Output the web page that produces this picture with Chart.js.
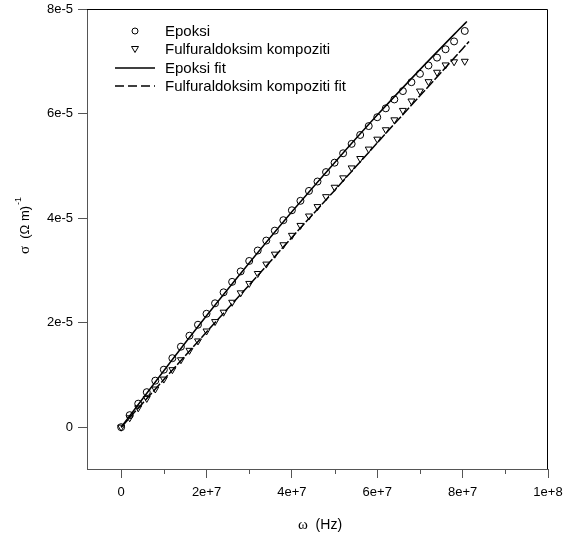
<!DOCTYPE html>
<html>
<head>
<meta charset="utf-8">
<script src="https://cdn.jsdelivr.net/npm/chart.js@4.4.0/dist/chart.umd.min.js"></script>
<style>
  html, body { margin: 0; padding: 0; background: #fff; }
</style>
</head>
<body>
<canvas id="sigmaChart" width="566" height="536"></canvas>
<script>
// measured points: frequency (Hz) and conductivity (Ohm m)^-1
var freqHz = [0, 2e6, 4e6, 6e6, 8e6, 1e7, 1.2e7, 1.4e7, 1.6e7, 1.8e7,
              2e7, 2.2e7, 2.4e7, 2.6e7, 2.8e7, 3e7, 3.2e7, 3.4e7, 3.6e7, 3.8e7,
              4e7, 4.2e7, 4.4e7, 4.6e7, 4.8e7, 5e7, 5.2e7, 5.4e7, 5.6e7, 5.8e7,
              6e7, 6.2e7, 6.4e7, 6.6e7, 6.8e7, 7e7, 7.2e7, 7.4e7, 7.6e7, 7.8e7, 8.05e7];

var epoksiSigma = [0, 0.23e-5, 0.45e-5, 0.67e-5, 0.89e-5, 1.10e-5, 1.32e-5, 1.54e-5, 1.75e-5, 1.96e-5,
                   2.17e-5, 2.37e-5, 2.58e-5, 2.78e-5, 2.98e-5, 3.18e-5, 3.38e-5, 3.57e-5, 3.76e-5, 3.96e-5,
                   4.15e-5, 4.33e-5, 4.52e-5, 4.70e-5, 4.88e-5, 5.06e-5, 5.24e-5, 5.42e-5, 5.59e-5, 5.76e-5,
                   5.93e-5, 6.10e-5, 6.27e-5, 6.43e-5, 6.60e-5, 6.76e-5, 6.92e-5, 7.07e-5, 7.23e-5, 7.38e-5, 7.58e-5];

var fulfSigma = [0, 0.18e-5, 0.37e-5, 0.55e-5, 0.73e-5, 0.92e-5, 1.10e-5, 1.29e-5, 1.47e-5, 1.65e-5,
                 1.84e-5, 2.02e-5, 2.20e-5, 2.39e-5, 2.57e-5, 2.75e-5, 2.94e-5, 3.12e-5, 3.31e-5, 3.49e-5,
                 3.67e-5, 3.86e-5, 4.04e-5, 4.22e-5, 4.41e-5, 4.59e-5, 4.77e-5, 4.96e-5, 5.14e-5, 5.32e-5,
                 5.51e-5, 5.69e-5, 5.88e-5, 6.06e-5, 6.24e-5, 6.43e-5, 6.61e-5, 6.79e-5, 6.93e-5, 6.99e-5, 7.00e-5];

// fitted curves
var fitFreqHz = [0, 1e7, 2e7, 3e7, 4e7, 5e7, 6e7, 7e7, 8e7, 8.1e7];
var epoksiFit = [0, 1.08e-5, 2.13e-5, 3.14e-5, 4.12e-5, 5.06e-5, 5.97e-5, 6.84e-5, 7.68e-5, 7.76e-5];
var fulfFitFreqHz = [0, 1e7, 2e7, 3e7, 4e7, 5e7, 6e7, 7e7, 8e7, 8.15e7];
var fulfFit = [0, 0.91e-5, 1.82e-5, 2.72e-5, 3.63e-5, 4.53e-5, 5.44e-5, 6.34e-5, 7.24e-5, 7.38e-5];

// axis ticks
var xTicks = [0, 2e7, 4e7, 6e7, 8e7, 1e8];
var xTickLabels = ['0', '2e+7', '4e+7', '6e+7', '8e+7', '1e+8'];
var xMinorTicks = [1e7, 3e7, 5e7, 7e7, 9e7];
var yTicks = [0, 2e-5, 4e-5, 6e-5, 8e-5];
var yTickLabels = ['0', '2e-5', '4e-5', '6e-5', '8e-5'];

var legendLabels = ['Epoksi', 'Fulfuraldoksim kompoziti', 'Epoksi fit', 'Fulfuraldoksim kompoziti fit'];

var SANS = '"Liberation Sans", Arial, sans-serif';
var SERIF = '"Liberation Serif", "Times New Roman", serif';

function toPoints(xs, ys) {
    return xs.map(function (x, i) { return { x: x, y: ys[i] }; });
}

// box, minor ticks, axis titles and legend
var decorPlugin = {
    id: 'decor',
    afterDraw: function (chart) {
        var ctx = chart.ctx, a = chart.chartArea, xs = chart.scales.x;
        ctx.save();
        // top and right frame
        ctx.strokeStyle = '#000';
        ctx.lineWidth = 1;
        ctx.beginPath();
        ctx.moveTo(a.left, a.top + 0.5);
        ctx.lineTo(a.right - 0.5, a.top + 0.5);
        ctx.lineTo(a.right - 0.5, a.bottom);
        ctx.stroke();
        // minor ticks on x
        ctx.strokeStyle = '#555';
        ctx.beginPath();
        xMinorTicks.forEach(function (v) {
            var px = Math.round(xs.getPixelForValue(v)) + 0.5;
            ctx.moveTo(px, a.bottom);
            ctx.lineTo(px, a.bottom + 5);
        });
        ctx.stroke();

        // x title
        ctx.fillStyle = '#000';
        ctx.textBaseline = 'alphabetic';
        ctx.font = '15px ' + SERIF;
        var w1 = ctx.measureText('\u03c9').width;
        ctx.font = '14px ' + SANS;
        var w2 = ctx.measureText('  (Hz)').width;
        var x0 = 320 - (w1 + w2) / 2;
        ctx.font = '15px ' + SERIF;
        ctx.fillText('\u03c9', x0, 529);
        ctx.font = '14px ' + SANS;
        ctx.fillText('  (Hz)', x0 + w1, 529);

        // y title (rotated)
        ctx.save();
        ctx.translate(29, 226);
        ctx.rotate(-Math.PI / 2);
        ctx.font = '15px ' + SERIF;
        var s1 = ctx.measureText('\u03c3').width;
        ctx.font = '13px ' + SANS;
        var s2 = ctx.measureText('  (\u03a9 m)').width;
        ctx.font = '9px ' + SANS;
        var s3 = ctx.measureText('-1').width;
        var y0 = -(s1 + s2 + s3) / 2;
        ctx.font = '15px ' + SERIF;
        ctx.fillText('\u03c3', y0, 0);
        ctx.font = '13px ' + SANS;
        ctx.fillText('  (\u03a9 m)', y0 + s1, 0);
        ctx.font = '9px ' + SANS;
        ctx.fillText('-1', y0 + s1 + s2 + 1, -8);
        ctx.restore();

        // legend
        var rows = [31, 49, 68, 86];
        ctx.font = '15px ' + SANS;
        ctx.textBaseline = 'middle';
        ctx.lineWidth = 1;
        ctx.strokeStyle = '#000';
        ctx.beginPath();
        ctx.arc(135, rows[0], 3, 0, Math.PI * 2);
        ctx.stroke();
        ctx.beginPath();
        ctx.moveTo(131.5, rows[1] - 2.5);
        ctx.lineTo(138.5, rows[1] - 2.5);
        ctx.lineTo(135, rows[1] + 3.5);
        ctx.closePath();
        ctx.stroke();
        ctx.lineWidth = 1.5;
        ctx.beginPath();
        ctx.moveTo(115, rows[2]);
        ctx.lineTo(155, rows[2]);
        ctx.stroke();
        ctx.setLineDash([9, 4]);
        ctx.beginPath();
        ctx.moveTo(115, rows[3]);
        ctx.lineTo(155, rows[3]);
        ctx.stroke();
        ctx.setLineDash([]);
        legendLabels.forEach(function (t, i) {
            ctx.fillText(t, 165, rows[i] + 1);
        });
        ctx.restore();
    }
};

new Chart(document.getElementById('sigmaChart'), {
    type: 'scatter',
    data: {
        datasets: [
            {
                label: legendLabels[0],
                data: toPoints(freqHz, epoksiSigma),
                pointStyle: 'circle',
                pointRadius: 3.5,
                borderColor: '#000',
                borderWidth: 1,
                backgroundColor: 'rgba(0,0,0,0)',
                order: 1
            },
            {
                label: legendLabels[1],
                data: toPoints(freqHz, fulfSigma),
                pointStyle: 'triangle',
                rotation: 180,
                pointRadius: 4,
                borderColor: '#000',
                borderWidth: 1,
                backgroundColor: 'rgba(0,0,0,0)',
                order: 1
            },
            {
                label: legendLabels[2],
                data: toPoints(fitFreqHz, epoksiFit),
                showLine: true,
                pointRadius: 0,
                borderColor: '#000',
                borderWidth: 1.5,
                tension: 0.3,
                order: 0
            },
            {
                label: legendLabels[3],
                data: toPoints(fulfFitFreqHz, fulfFit),
                showLine: true,
                pointRadius: 0,
                borderColor: '#000',
                borderWidth: 1.5,
                borderDash: [10, 2],
                tension: 0.3,
                order: 0
            }
        ]
    },
    options: {
        responsive: false,
        animation: false,
        devicePixelRatio: 1,
        layout: { padding: { left: 0, right: 18, top: 9, bottom: 0 } },
        plugins: {
            legend: { display: false },
            tooltip: { enabled: false }
        },
        scales: {
            x: {
                type: 'linear',
                min: -8e6,
                max: 1e8,
                afterBuildTicks: function (s) { s.ticks = xTicks.map(function (v) { return { value: v }; }); },
                afterFit: function (s) {
                    s.height = 67;
                    s.paddingLeft = 0; s.paddingRight = 0;
                },
                grid: { drawOnChartArea: false, drawTicks: true, tickLength: 9, tickColor: '#555' },
                border: { display: true, color: '#555', width: 1 },
                ticks: {
                    autoSkip: false,
                    maxRotation: 0,
                    padding: 7,
                    color: '#000',
                    font: { family: SANS, size: 13 },
                    callback: function (v, i) { return xTickLabels[i]; }
                }
            },
            y: {
                type: 'linear',
                min: -8e-6,
                max: 8e-5,
                afterBuildTicks: function (s) { s.ticks = yTicks.map(function (v) { return { value: v }; }); },
                afterFit: function (s) {
                    s.width = 87;
                    s.paddingTop = 0; s.paddingBottom = 0;
                },
                grid: { drawOnChartArea: false, drawTicks: true, tickLength: 9, tickColor: '#555' },
                border: { display: true, color: '#555', width: 1 },
                ticks: {
                    autoSkip: false,
                    padding: 5,
                    color: '#000',
                    font: { family: SANS, size: 13 },
                    callback: function (v, i) { return yTickLabels[i]; }
                }
            }
        }
    },
    plugins: [decorPlugin]
});
</script>
</body>
</html>
